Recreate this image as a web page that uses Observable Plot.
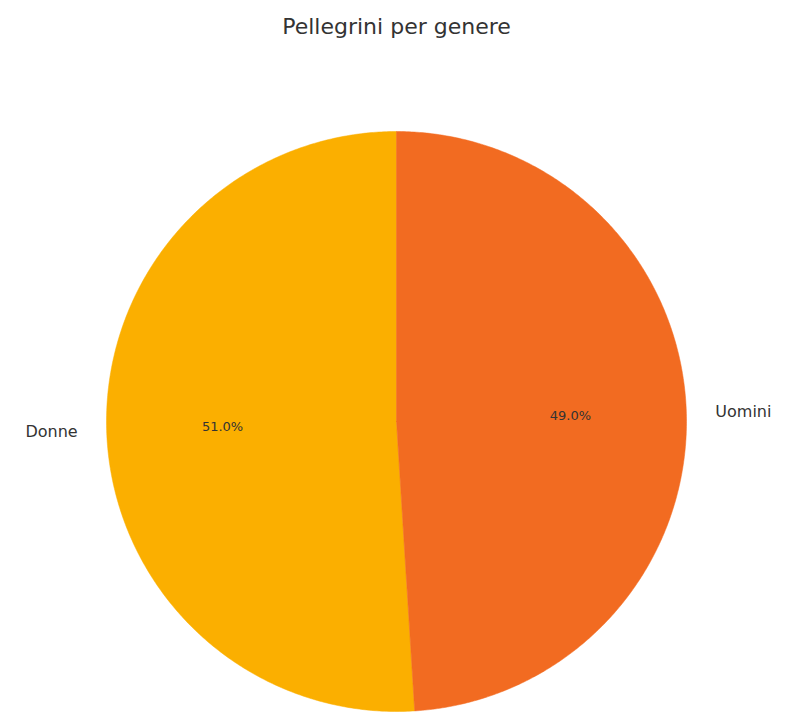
<!DOCTYPE html>
<html>
<head>
<meta charset="utf-8">
<script src="https://cdn.jsdelivr.net/npm/d3@7"></script>
<script src="https://cdn.jsdelivr.net/npm/@observablehq/plot@0.6"></script>
<style>
  html, body { margin: 0; padding: 0; background: #fff; }
  #chart svg { display: block; }
</style>
</head>
<body>
<div id="chart"></div>
<script>
const title = "Pellegrini per genere";
const categories = ["Donne", "Uomini"];
const values = [51.0, 49.0];
const colors = ["#FBAF00", "#F26B21"];

const W = 802, H = 722;
const cx = 396, cy = 421, R = 290;
const startAngle = 90; // degrees, counterclockwise

const total = d3.sum(values);
const wedgePts = [];
const pctLabels = [];
const catLabels = [];
let a0 = startAngle;
categories.forEach((c, i) => {
  const span = values[i] / total * 360;
  const a1 = a0 + span;
  wedgePts.push({cat: c, x: 0, y: 0});
  const n = Math.max(2, Math.ceil(span * 2));
  for (let k = 0; k <= n; k++) {
    const t = (a0 + span * k / n) * Math.PI / 180;
    wedgePts.push({cat: c, x: R * Math.cos(t), y: R * Math.sin(t)});
  }
  wedgePts.push({cat: c, x: 0, y: 0});
  const mid = (a0 + a1) / 2 * Math.PI / 180;
  pctLabels.push({text: values[i].toFixed(1) + "%", x: 0.6 * R * Math.cos(mid), y: 0.6 * R * Math.sin(mid)});
  const lx = 1.1 * R * Math.cos(mid);
  catLabels.push({text: c, x: lx, y: 1.1 * R * Math.sin(mid), anchor: lx < 0 ? "end" : "start"});
  a0 = a1;
});

const chart = Plot.plot({
  width: W,
  height: H,
  margin: 0,
  style: {fontFamily: "DejaVu Sans", background: "#fff"},
  x: {domain: [-cx, W - cx], range: [0, W], axis: null},
  y: {domain: [-(H - cy), cy], range: [H, 0], axis: null},
  color: {domain: categories, range: colors},
  marks: [
    Plot.line(wedgePts, {x: "x", y: "y", z: "cat", fill: "cat", stroke: "cat", strokeWidth: 0.5, curve: "linear-closed"}),
    Plot.text(pctLabels, {x: "x", y: "y", text: "text", fontSize: 13, fill: "#333333"}),
    Plot.text(catLabels.filter(d => d.anchor === "end"), {x: "x", y: "y", text: "text", fontSize: 16, fill: "#333333", textAnchor: "end"}),
    Plot.text(catLabels.filter(d => d.anchor === "start"), {x: "x", y: "y", text: "text", fontSize: 16, fill: "#333333", textAnchor: "start"}),
    Plot.text([title], {x: () => 0, y: () => cy - 26, text: d => d, fontSize: 22, fill: "#333333"})
  ]
});
document.getElementById("chart").appendChild(chart);
</script>
</body>
</html>
